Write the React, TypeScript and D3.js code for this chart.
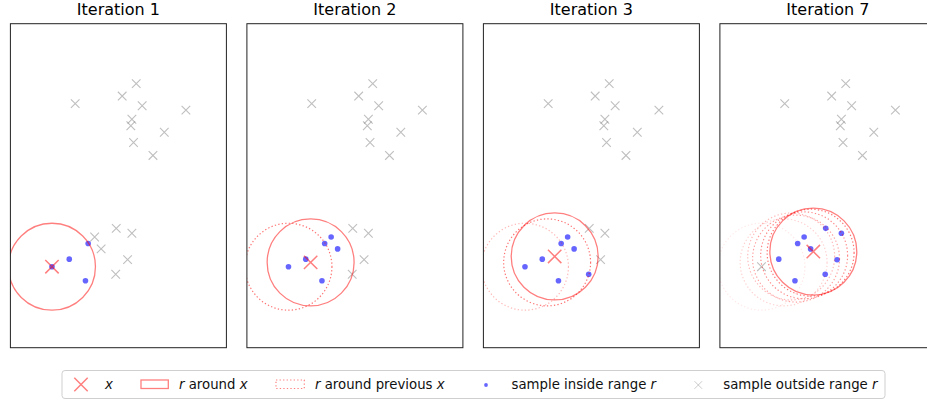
import React from "react";
import * as d3 from "d3";

// Sample coordinates (data units)
const sampleX = [1.2, 2.33, 2.07, 2.44, 3.25, 2.25, 2.23, 2.85, 2.28, 2.64, 1.96, 2.25, 1.56, 1.68, 2.17, 1.95, 1.44, 1.09, 1.39, 0.77];
const sampleY = [4.52, 4.89, 4.66, 4.48, 4.4, 4.23, 4.11, 3.99, 3.8, 3.56, 2.21, 2.12, 2.05, 1.83, 1.63, 1.36, 1.93, 1.64, 1.24, 1.5];

// Position of x after each iteration (1..7)
const centerX = [0.77, 1.18, 1.32, 1.41, 1.56, 1.68, 1.73];
const centerY = [1.5, 1.58, 1.69, 1.65, 1.71, 1.76, 1.78];
const radius = 0.805;

// Iterations shown and the samples inside range r at each
const shownIterations = [1, 2, 3, 7];
const insideSamples = [
  [16, 17, 18, 19],
  [12, 13, 16, 17, 18, 19],
  [12, 13, 15, 16, 17, 18, 19],
  [10, 11, 12, 13, 14, 15, 16, 17, 18],
];

const FONT = "DejaVu Sans, sans-serif";
const PANEL_W = 216;
const PANEL_H = 324;
const PANEL_TOP = 23.7;
const PANEL_LEFT0 = 10.4;
const PANEL_STEP = 236.5;

const xScale = d3.scaleLinear().domain([0, 4]).range([0, PANEL_W]);
const yScale = d3.scaleLinear().domain([0, 6]).range([PANEL_H, 0]);
const rPx = xScale(radius) - xScale(0);

function Cross({ cx, cy, h, stroke, opacity, width }: any) {
  const p = `M${cx - h},${cy - h}L${cx + h},${cy + h}M${cx - h},${cy + h}L${cx + h},${cy - h}`;
  return <path d={p} stroke={stroke} strokeOpacity={opacity} strokeWidth={width} fill="none" />;
}

function Panel({ idx }: { idx: number }) {
  const iter = shownIterations[idx];
  const inside = new Set(insideSamples[idx]);
  const left = PANEL_LEFT0 + idx * PANEL_STEP;
  const clipId = `clip-${idx}`;
  const prev = d3.range(iter - 1);
  const cur = iter - 1;
  return (
    <g transform={`translate(${left},${PANEL_TOP})`}>
      <defs>
        <clipPath id={clipId}>
          <rect x={0} y={0} width={PANEL_W} height={PANEL_H} />
        </clipPath>
      </defs>
      <text x={PANEL_W / 2} y={14.8 - PANEL_TOP} textAnchor="middle" fontFamily={FONT} fontSize={16}>
        {`Iteration ${iter}`}
      </text>
      <g clipPath={`url(#${clipId})`}>
        {sampleX.map((sx, i) =>
          inside.has(i) ? null : (
            <Cross key={`o${i}`} cx={xScale(sx)} cy={yScale(sampleY[i])} h={4.3} stroke="gray" opacity={0.5} width={1.1} />
          )
        )}
        {sampleX.map((sx, i) =>
          inside.has(i) ? (
            <circle key={`i${i}`} cx={xScale(sx)} cy={yScale(sampleY[i])} r={2.8} fill="blue" fillOpacity={0.6} />
          ) : null
        )}
        {prev.map((j) => (
          <circle
            key={`p${j}`}
            cx={xScale(centerX[j])}
            cy={yScale(centerY[j])}
            r={rPx}
            fill="none"
            stroke="red"
            strokeOpacity={0.55 * ((j + 1) / Math.max(1, iter - 1))}
            strokeWidth={1.2}
            strokeDasharray="1.33,2.2"
          />
        ))}
        <circle cx={xScale(centerX[cur])} cy={yScale(centerY[cur])} r={rPx} fill="none" stroke="red" strokeOpacity={0.5} strokeWidth={1.3} />
        <Cross cx={xScale(centerX[cur])} cy={yScale(centerY[cur])} h={6.7} stroke="red" opacity={0.5} width={1.5} />
      </g>
      <rect x={0} y={0} width={PANEL_W} height={PANEL_H} fill="none" stroke="#222" strokeWidth={1} />
    </g>
  );
}

function Legend() {
  const ty = 389;
  const cy = 384.5;
  const txt = { fontFamily: FONT, fontSize: 13.3, fill: "#111" } as any;
  return (
    <g>
      <rect x={62} y={370.5} width={823} height={28} rx={3} fill="white" fillOpacity={0.8} stroke="#cfcfcf" strokeWidth={1} />
      <Cross cx={81} cy={cy} h={6.7} stroke="red" opacity={0.5} width={1.5} />
      <text x={105} y={ty} {...txt}><tspan fontStyle="italic">x</tspan></text>

      <rect x={141} y={380} width={27.3} height={8.5} fill="none" stroke="red" strokeOpacity={0.5} strokeWidth={1.3} />
      <text x={179} y={ty} {...txt}>
        <tspan fontStyle="italic">r</tspan>
        <tspan>{" around "}</tspan>
        <tspan fontStyle="italic">x</tspan>
      </text>

      <rect x={276} y={380} width={28.3} height={8.5} fill="none" stroke="red" strokeOpacity={0.5} strokeWidth={1.2} strokeDasharray="1.33,2.2" />
      <text x={315} y={ty} {...txt}>
        <tspan fontStyle="italic">r</tspan>
        <tspan>{" around previous "}</tspan>
        <tspan fontStyle="italic">x</tspan>
      </text>

      <circle cx={486} cy={cy + 0.5} r={1.9} fill="blue" fillOpacity={0.6} />
      <text x={511.5} y={ty} {...txt}>
        <tspan>{"sample inside range "}</tspan>
        <tspan fontStyle="italic">r</tspan>
      </text>

      <Cross cx={698.3} cy={cy + 0.5} h={3.8} stroke="gray" opacity={0.4} width={1} />
      <text x={723.3} y={ty} {...txt}>
        <tspan>{"sample outside range "}</tspan>
        <tspan fontStyle="italic">r</tspan>
      </text>
    </g>
  );
}

export default function App() {
  return (
    <svg
      width={927}
      height={401}
      style={{ position: "absolute", left: 0, top: 0, background: "white" }}
    >
      {shownIterations.map((_, i) => (
        <Panel key={i} idx={i} />
      ))}
      <Legend />
    </svg>
  );
}
